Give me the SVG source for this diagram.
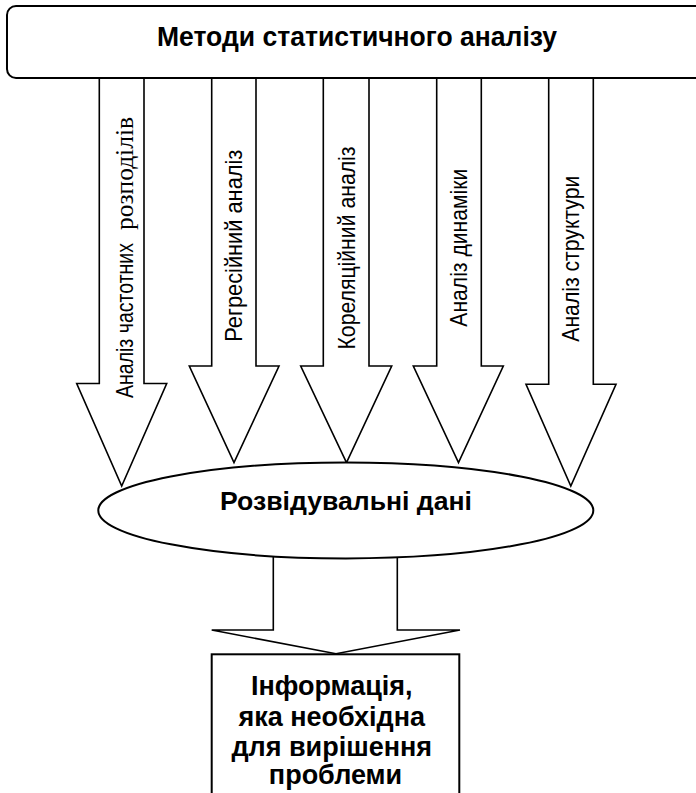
<svg xmlns="http://www.w3.org/2000/svg" width="696" height="793" viewBox="0 0 696 793">
<style>
.shape{fill:#fff;stroke:#000;stroke-width:2}
.arrow{fill:#fff;stroke:#000;stroke-width:1.6;stroke-linejoin:miter}
.bold{font-family:"Liberation Sans",Arial,sans-serif;font-weight:bold;fill:#000}
.lab{font-family:"Liberation Sans",Arial,sans-serif;font-size:23px;fill:#000}
.serif{font-family:"Liberation Serif","Times New Roman",serif;font-size:26px;fill:#000}
</style>
<rect width="696" height="793" fill="#fff"/>
<g id="connectors">
  <polygon class="arrow" points="99.3,78 144,78 144,383.5 166.7,383.5 121.7,486 76.7,383.5 99.3,383.5"/>
  <polygon class="arrow" points="211.7,78 256,78 256,366 279,366 234,462.5 189.3,366 211.7,366"/>
  <polygon class="arrow" points="323.3,78 369,78 369,366 391.7,366 346.5,462.5 300.7,366 323.3,366"/>
  <polygon class="arrow" points="436.7,78 481.3,78 481.3,366 503.3,366 458.5,462.5 413.3,366 436.7,366"/>
  <polygon class="arrow" points="548.7,78 593.3,78 593.3,384.3 616,384.3 570.8,486 526,384.3 548.7,384.3"/>
  <polygon class="arrow" points="273.3,556 397.3,556 397.3,630 460,630 336,653.8 211.7,630 273.3,630"/>
  <text class="lab" transform="translate(133,398) rotate(-90)" textLength="155" lengthAdjust="spacingAndGlyphs">Аналіз частотних</text>
  <text class="serif" transform="translate(133,230) rotate(-90)" textLength="113" lengthAdjust="spacingAndGlyphs">розподілів</text>
  <text class="lab" transform="translate(242,341.7) rotate(-90)" textLength="192" lengthAdjust="spacingAndGlyphs">Регресійний аналіз</text>
  <text class="lab" transform="translate(355,349.5) rotate(-90)" textLength="203" lengthAdjust="spacingAndGlyphs">Кореляційний аналіз</text>
  <text class="lab" transform="translate(466.7,326.7) rotate(-90)" textLength="158" lengthAdjust="spacingAndGlyphs">Аналіз динаміки</text>
  <text class="lab" transform="translate(579.3,341.7) rotate(-90)" textLength="166" lengthAdjust="spacingAndGlyphs">Аналіз структури</text>
</g>
<g id="methods">
  <rect class="shape" x="7" y="6" width="705" height="72" rx="9" ry="9"/>
  <text class="bold" x="157" y="46" font-size="28" textLength="400" lengthAdjust="spacingAndGlyphs">Методи статистичного аналізу</text>
</g>
<g id="data">
  <ellipse class="shape" cx="345.8" cy="510.4" rx="247.5" ry="48"/>
  <text class="bold" x="220" y="510" font-size="26" textLength="252" lengthAdjust="spacingAndGlyphs">Розвідувальні дані</text>
</g>
<g id="info">
  <rect class="shape" x="211.7" y="654.3" width="247.6" height="160"/>
  <text class="bold" font-size="27" text-anchor="middle">
    <tspan x="335.5" y="695">Інформація,</tspan>
    <tspan x="335.5" y="725.5">яка необхідна</tspan>
    <tspan x="335.5" y="755.5">для вирішення</tspan>
    <tspan x="335.5" y="784">проблеми</tspan>
  </text>
</g>
</svg>
